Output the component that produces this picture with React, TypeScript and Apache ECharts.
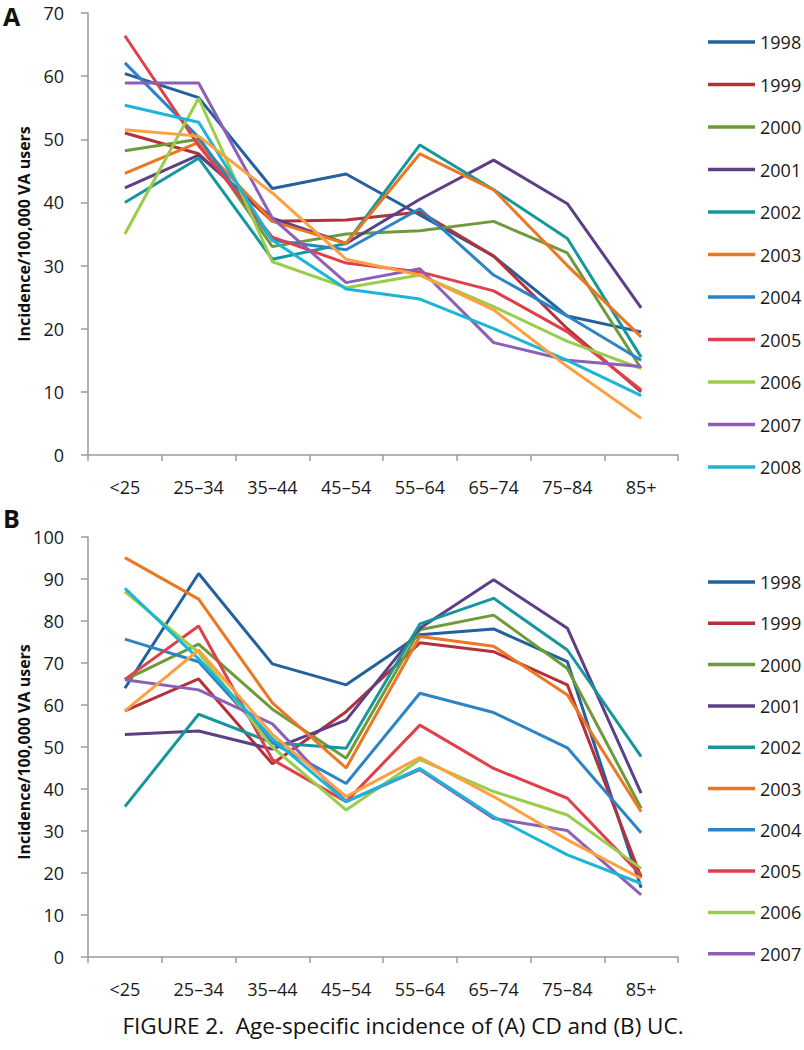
import React, { useEffect, useRef } from "react";
import * as echarts from "echarts";

const ageGroups = ["<25", "25–34", "35–44", "45–54", "55–64", "65–74", "75–84", "85+"];
const years = ["1998", "1999", "2000", "2001", "2002", "2003", "2004", "2005", "2006", "2007", "2008", "2009"];
const legendA = years.slice(0, 11);
const legendB = years.slice(0, 10);
const yTicksA = { min: 0, max: 70, interval: 10 };
const yTicksB = { min: 0, max: 100, interval: 10 };

const colors = [
  "#23609E", "#B3313A", "#6E9A3A", "#5C3F86", "#16979E", "#EC7622",
  "#2C84C6", "#E0404A", "#9ACD4B", "#8E5FB8", "#1BB5D8", "#FFA040",
];

// Panel A: CD incidence per 100,000 VA users
const cd1998 = [60.4, 56.6, 42.2, 44.5, 38.0, 31.5, 22.0, 19.5];
const cd1999 = [51.0, 47.7, 37.0, 37.2, 38.5, 31.5, 20.0, 10.0];
const cd2000 = [48.2, 50.0, 33.0, 35.0, 35.5, 37.0, 32.0, 13.7];
const cd2001 = [42.3, 47.5, 37.5, 33.5, 40.5, 46.7, 39.8, 23.3];
const cd2002 = [40.0, 47.0, 31.0, 33.5, 49.1, 42.0, 34.3, 15.5];
const cd2003 = [44.6, 49.5, 37.0, 33.5, 47.7, 42.0, 30.0, 18.7];
const cd2004 = [62.1, 50.3, 34.0, 32.5, 39.0, 28.5, 22.0, 15.0];
const cd2005 = [66.4, 49.0, 34.5, 30.4, 29.0, 26.0, 19.5, 10.3];
const cd2006 = [35.0, 56.5, 30.6, 26.5, 28.5, 23.5, 18.0, 13.7];
const cd2007 = [58.9, 58.9, 37.5, 27.3, 29.5, 17.8, 15.0, 14.0];
const cd2008 = [55.4, 52.7, 34.0, 26.3, 24.7, 20.0, 15.0, 9.4];
const cd2009 = [51.5, 50.5, 41.5, 31.0, 28.5, 23.0, 14.0, 5.8];

// Panel B: UC incidence per 100,000 VA users
const uc1998 = [64.0, 91.3, 69.8, 64.8, 76.7, 78.1, 70.3, 16.5];
const uc1999 = [58.6, 66.2, 46.0, 58.4, 74.8, 72.7, 64.8, 19.0];
const uc2000 = [66.0, 74.5, 59.0, 47.3, 77.9, 81.4, 68.7, 35.4];
const uc2001 = [53.0, 53.8, 49.5, 56.4, 78.3, 89.8, 78.3, 39.0];
const uc2002 = [35.8, 57.8, 51.0, 49.7, 79.3, 85.4, 73.1, 47.7];
const uc2003 = [95.1, 85.2, 60.5, 45.0, 76.3, 74.0, 62.4, 34.6];
const uc2004 = [75.7, 70.3, 51.0, 41.3, 62.8, 58.2, 49.8, 29.6];
const uc2005 = [66.1, 78.8, 47.0, 37.0, 55.2, 44.9, 37.8, 19.5];
const uc2006 = [87.0, 72.5, 50.0, 35.0, 47.0, 39.4, 33.8, 21.1];
const uc2007 = [66.0, 63.6, 55.5, 37.0, 44.6, 33.0, 30.1, 14.8];
const uc2008 = [87.8, 71.0, 52.0, 37.0, 44.9, 33.4, 24.3, 17.5];
const uc2009 = [58.6, 73.1, 53.0, 38.2, 47.5, 38.2, 27.9, 18.7];

const cdSeries = [cd1998, cd1999, cd2000, cd2001, cd2002, cd2003, cd2004, cd2005, cd2006, cd2007, cd2008, cd2009];
const ucSeries = [uc1998, uc1999, uc2000, uc2001, uc2002, uc2003, uc2004, uc2005, uc2006, uc2007, uc2008, uc2009];

const yAxisName = "Incidence/100,000 VA users";
const caption = "FIGURE 2.  Age-specific incidence of (A) CD and (B) UC.";

const FONT = "'Open Sans', 'Noto Sans', sans-serif";

export default function App() {
  const ref = useRef<HTMLDivElement>(null);
  useEffect(() => {
    if (!ref.current) return;
    const chart = echarts.init(ref.current, null, { renderer: "svg" });
    const axisColor = "#9a9a9a";
    const xAxisBase = (gridIndex: number) => ({
      type: "category",
      gridIndex,
      data: ageGroups,
      boundaryGap: true,
      axisLine: { show: true, lineStyle: { color: axisColor, width: 1.5 } },
      axisTick: { show: true, length: 6, lineStyle: { color: axisColor, width: 1.5 } },
      axisLabel: { color: "#1a1a1a", fontSize: 18, lineHeight: 18, fontFamily: FONT, margin: 23, interval: 0 },
      splitLine: { show: false },
    });
    const yAxisBase = (gridIndex: number, t: { min: number; max: number; interval: number }) => ({
      type: "value",
      gridIndex,
      min: t.min,
      max: t.max,
      interval: t.interval,
      axisLine: { show: true, lineStyle: { color: axisColor, width: 1.5 } },
      axisTick: { show: true, length: 7, lineStyle: { color: axisColor, width: 1.5 } },
      axisLabel: { color: "#1a1a1a", fontSize: 18, lineHeight: 18, fontFamily: FONT, margin: 24 },
      splitLine: { show: false },
    });
    const mkSeries = (arr: number[][], axisIndex: number) =>
      arr.map((d, i) => ({
        name: years[i],
        type: "line",
        xAxisIndex: axisIndex,
        yAxisIndex: axisIndex,
        data: d,
        symbol: "none",
        lineStyle: { width: 3, color: colors[i] },
        itemStyle: { color: colors[i] },
        emphasis: { disabled: true },
      }));
    const legendBase = {
      orient: "vertical",
      left: 703,
      itemWidth: 47,
      itemHeight: 3.5,
      icon: "rect",
      selectedMode: false,
      textStyle: { fontSize: 18, lineHeight: 18, color: "#1a1a1a", fontFamily: FONT },
    };
    chart.setOption({
      animation: false,
      backgroundColor: "#fff",
      color: colors,
      grid: [
        { left: 88, top: 13, width: 590, height: 442 },
        { left: 88, top: 537, width: 590, height: 420 },
      ],
      xAxis: [xAxisBase(0), xAxisBase(1)],
      yAxis: [yAxisBase(0, yTicksA), yAxisBase(1, yTicksB)],
      legend: [
        { ...legendBase, top: 28, itemGap: 24.5, data: legendA },
        { ...legendBase, top: 568, itemGap: 23.3, data: legendB },
      ],
      series: [...mkSeries(cdSeries, 0), ...mkSeries(ucSeries, 1)],
      graphic: [
        { type: "text", left: 3, top: 3, style: { text: "A", fontSize: 25, lineHeight: 24, fontWeight: "bold", fontFamily: FONT, fill: "#111" } },
        { type: "text", left: 3, top: 505, style: { text: "B", fontSize: 25, lineHeight: 24, fontWeight: "bold", fontFamily: FONT, fill: "#111" } },
        {
          type: "text", x: 24, y: 234, rotation: Math.PI / 2,
          style: { text: yAxisName, fontSize: 16, fontWeight: "bold", fontFamily: FONT, fill: "#111", align: "center", verticalAlign: "middle" },
        },
        {
          type: "text", x: 24, y: 752, rotation: Math.PI / 2,
          style: { text: yAxisName, fontSize: 16, fontWeight: "bold", fontFamily: FONT, fill: "#111", align: "center", verticalAlign: "middle" },
        },
        {
          type: "text", x: 403, y: 1025,
          style: { text: caption, fontSize: 22.5, fontFamily: FONT, fill: "#111", align: "center", verticalAlign: "middle" },
        },
      ],
    });
    return () => chart.dispose();
  }, []);
  return <div ref={ref} style={{ position: "fixed", left: 0, top: 0, width: 804, height: 1050 }} />;
}
